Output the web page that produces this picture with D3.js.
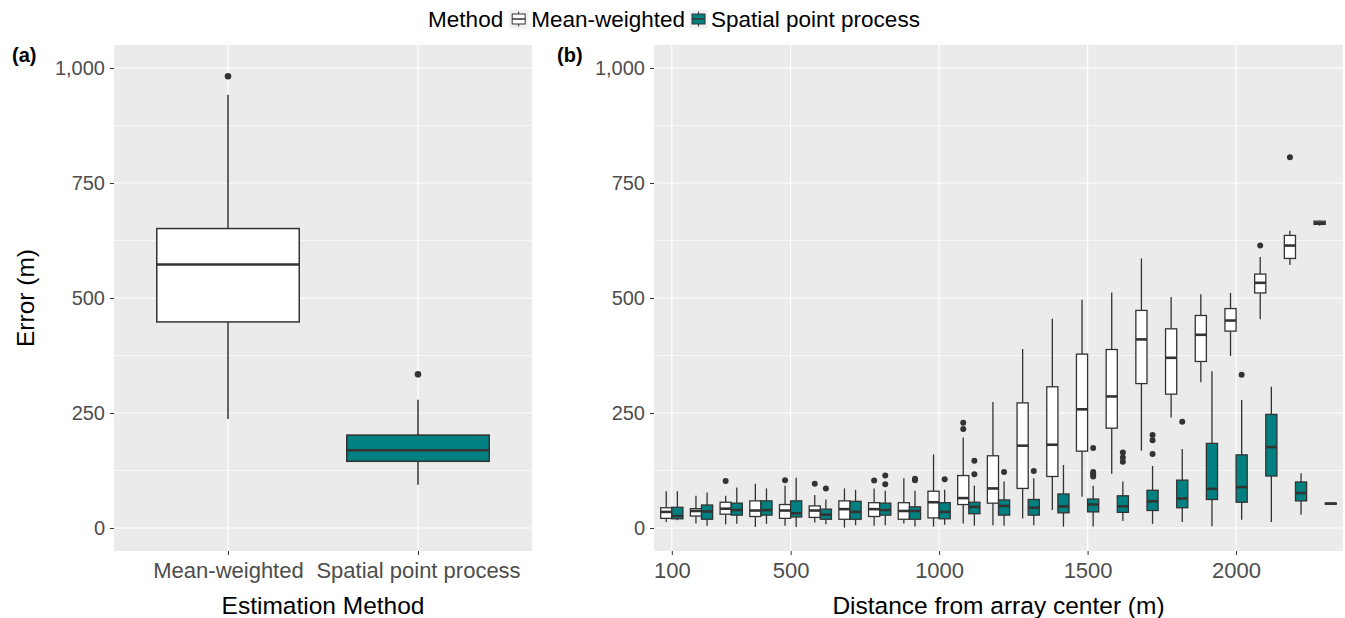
<!DOCTYPE html>
<html>
<head>
<meta charset="utf-8">
<script src="https://cdnjs.cloudflare.com/ajax/libs/d3/7.8.5/d3.min.js"></script>
<style>
  body { margin: 0; background: #ffffff; }
  svg { display: block; font-family: "Liberation Sans", Arial, sans-serif; }
</style>
</head>
<body>
<div id="chart"></div>
<script>
// ---- panel (a) data: overall error per method
var methods = ["Mean-weighted", "Spatial point process"];
var aLow  = [237, 94];
var aQ1   = [448, 145];
var aMed  = [573, 169];
var aQ3   = [651, 202];
var aHigh = [942, 279];
var aOut  = [[982], [334]];

// ---- panel (b) data: error by distance from array center
var distances = [100,200,300,400,500,600,700,800,900,1000,1100,1200,1300,1400,1500,1600,1700,1800,1900,2000,2100,2200,2300];
var distTicks = [100, 500, 1000, 1500, 2000];

var mwLow  = [13,10,8,2,5,12,1,5,10,3,10,6,21,39,68,118,168,240,317,374,454,572,657];
var mwQ1   = [21,26,30,25,21,23,19,25,19,22,51,54,86,112,167,217,314,291,362,428,511,586,660];
var mwMed  = [35,37,42,38,38,38,41,41,37,56,65,86,179,181,258,286,410,370,420,451,533,614,663];
var mwQ3   = [44,42,56,59,51,48,59,55,55,80,114,157,272,307,378,388,473,433,462,477,552,636,667];
var mwHigh = [80,70,70,96,92,72,86,86,108,160,197,274,389,455,496,512,586,502,508,511,589,646,668];
var mwOut  = [[],[],[102],[],[104],[96],[],[103],[],[],[215,229],[],[],[],[],[],[],[],[],[],[614],[806],[]];

var spLow  = [17,5,9,9,2,8,6,6,3,7,5,5,6,3,3,15,9,13,4,18,13,29,52];
var spQ1   = [20,19,28,28,24,19,19,28,19,20,31,28,28,33,35,34,38,44,62,56,113,59,52];
var spMed  = [26,36,39,39,32,29,35,39,37,35,46,48,44,47,51,47,58,64,85,89,176,76,53];
var spQ3   = [45,50,54,59,59,41,58,54,46,55,56,61,62,74,63,70,82,104,184,159,247,100,54];
var spHigh = [80,77,88,86,109,62,83,81,81,83,92,101,108,137,92,101,135,172,341,278,307,119,54];
var spOut  = [[],[],[],[],[],[86],[],[95,114],[104,107],[106],[117,146],[122],[124],[],[112,117,122,174],[144,153,164],[161,191,202],[231],[],[333],[],[],[]];

var yTicks = [0, 250, 500, 750, 1000];
var yMinor = [125, 375, 625, 875];

var width = 1345, height = 618;
var panelTop = 45, panelBottom = 551;
var boxStroke = "#333333";
var mwFill = "#ffffff";
var spFill = "#008080";
var panelBg = "#EBEBEB";
var tickColor = "#4D4D4D";

var svg = d3.select("#chart").append("svg")
    .attr("width", width)
    .attr("height", height);

var y = d3.scaleLinear().domain([-50, 1050]).range([panelBottom, panelTop]);

function drawPanel(x0, x1, xs, vLines) {
    var g = svg.append("g");
    g.append("rect")
        .attr("x", x0).attr("y", panelTop)
        .attr("width", x1 - x0).attr("height", panelBottom - panelTop)
        .attr("fill", panelBg);
    g.selectAll(".minor").data(yMinor).enter().append("line")
        .attr("x1", x0).attr("x2", x1)
        .attr("y1", function(d){ return y(d); }).attr("y2", function(d){ return y(d); })
        .attr("stroke", "#ffffff").attr("stroke-width", 0.6);
    g.selectAll(".major").data(yTicks).enter().append("line")
        .attr("x1", x0).attr("x2", x1)
        .attr("y1", function(d){ return y(d); }).attr("y2", function(d){ return y(d); })
        .attr("stroke", "#ffffff").attr("stroke-width", 1.2);
    g.selectAll(".vline").data(vLines).enter().append("line")
        .attr("x1", function(d){ return xs(d); }).attr("x2", function(d){ return xs(d); })
        .attr("y1", panelTop).attr("y2", panelBottom)
        .attr("stroke", "#ffffff").attr("stroke-width", 1.2);

    // y axis
    var ay = svg.append("g")
        .attr("transform", "translate(" + x0 + ",0)")
        .call(d3.axisLeft(y).tickValues(yTicks).tickSize(4).tickPadding(5).tickFormat(d3.format(",")));
    ay.select(".domain").remove();
    ay.selectAll("line").attr("stroke", boxStroke);
    ay.selectAll("text").attr("fill", tickColor).style("font-size", "20px")
        .attr("font-family", "Liberation Sans, Arial, sans-serif");

    // x axis
    var ax = svg.append("g")
        .attr("transform", "translate(0," + panelBottom + ")")
        .call(d3.axisBottom(xs).tickValues(vLines).tickSize(4).tickPadding(7));
    ax.select(".domain").remove();
    ax.selectAll("line").attr("stroke", boxStroke);
    ax.selectAll("text").attr("fill", tickColor).style("font-size", "22px")
        .attr("font-family", "Liberation Sans, Arial, sans-serif");
    return g;
}

function drawBox(g, xc, bw, lo, q1, med, q3, hi, outs, fill, sw, mw, r) {
    g.append("line")
        .attr("x1", xc).attr("x2", xc)
        .attr("y1", y(q3)).attr("y2", y(hi))
        .attr("stroke", boxStroke).attr("stroke-width", sw);
    g.append("line")
        .attr("x1", xc).attr("x2", xc)
        .attr("y1", y(q1)).attr("y2", y(lo))
        .attr("stroke", boxStroke).attr("stroke-width", sw);
    g.append("rect")
        .attr("x", xc - bw / 2).attr("y", y(q3))
        .attr("width", bw).attr("height", Math.max(y(q1) - y(q3), 0.5))
        .attr("fill", fill)
        .attr("stroke", boxStroke).attr("stroke-width", sw);
    g.append("line")
        .attr("x1", xc - bw / 2).attr("x2", xc + bw / 2)
        .attr("y1", y(med)).attr("y2", y(med))
        .attr("stroke", boxStroke).attr("stroke-width", mw);
    g.selectAll(null).data(outs).enter().append("circle")
        .attr("cx", xc).attr("cy", function(d){ return y(d); })
        .attr("r", r).attr("fill", boxStroke);
}

// ---- panel (a)
var xa = d3.scalePoint().domain(methods).range([114, 532]).padding(0.6);
var ga = drawPanel(114, 532, xa, methods);
var bwA = xa.step() * 0.75;
methods.forEach(function(m, i){
    drawBox(ga, xa(m), bwA, aLow[i], aQ1[i], aMed[i], aQ3[i], aHigh[i], aOut[i],
        i === 0 ? mwFill : spFill, 1.5, 2.5, 3.3);
});

// ---- panel (b)
var xb = d3.scalePoint().domain(distances).range([654, 1343]).padding(0.6);
var gb = drawPanel(654, 1343, xb, distTicks);
var bwB = xb.step() * 0.375;
distances.forEach(function(d, i){
    drawBox(gb, xb(d) - bwB / 2, bwB, mwLow[i], mwQ1[i], mwMed[i], mwQ3[i], mwHigh[i], mwOut[i], mwFill, 1.3, 2.6, 3);
    drawBox(gb, xb(d) + bwB / 2, bwB, spLow[i], spQ1[i], spMed[i], spQ3[i], spHigh[i], spOut[i], spFill, 1.3, 2.6, 3);
});

// ---- titles
svg.append("text")
    .attr("transform", "translate(34," + ((panelTop + panelBottom) / 2) + ") rotate(-90)")
    .attr("text-anchor", "middle")
    .style("font-size", "24.5px")
    .text("Error (m)");
svg.append("text")
    .attr("x", (114 + 532) / 2).attr("y", 614)
    .attr("text-anchor", "middle")
    .style("font-size", "24.5px")
    .text("Estimation Method");
svg.append("text")
    .attr("x", (654 + 1343) / 2).attr("y", 614)
    .attr("text-anchor", "middle")
    .style("font-size", "24.5px")
    .text("Distance from array center (m)");
svg.append("text").attr("x", 12).attr("y", 62)
    .style("font-size", "20px").style("font-weight", "bold").text("(a)");
svg.append("text").attr("x", 557).attr("y", 62)
    .style("font-size", "20px").style("font-weight", "bold").text("(b)");

// ---- legend
var leg = svg.append("g");
var legY = 19, keySize = 19;
var lx = 0;
var t0 = leg.append("text").attr("x", lx).attr("y", legY + 8).style("font-size", "22.5px").text("Method");
lx += t0.node().getComputedTextLength() + 6;
[["Mean-weighted", mwFill], ["Spatial point process", spFill]].forEach(function(item){
    var k = leg.append("g").attr("transform", "translate(" + lx + "," + (legY - keySize / 2) + ")");
    k.append("rect").attr("width", keySize).attr("height", keySize).attr("fill", "#F2F2F2");
    k.append("line").attr("x1", keySize / 2).attr("x2", keySize / 2).attr("y1", 2).attr("y2", keySize - 2)
        .attr("stroke", boxStroke).attr("stroke-width", 1);
    k.append("rect").attr("x", 3).attr("y", 4.5).attr("width", keySize - 6).attr("height", keySize - 9)
        .attr("fill", item[1]).attr("stroke", boxStroke).attr("stroke-width", 1);
    k.append("line").attr("x1", 3).attr("x2", keySize - 3).attr("y1", keySize / 2).attr("y2", keySize / 2)
        .attr("stroke", boxStroke).attr("stroke-width", 1.5);
    lx += keySize + 3;
    var t = leg.append("text").attr("x", lx).attr("y", legY + 8).style("font-size", "22.5px").text(item[0]);
    lx += t.node().getComputedTextLength() + 4;
});
leg.attr("transform", "translate(" + (676 - lx / 2) + ",0)");
</script>
</body>
</html>
